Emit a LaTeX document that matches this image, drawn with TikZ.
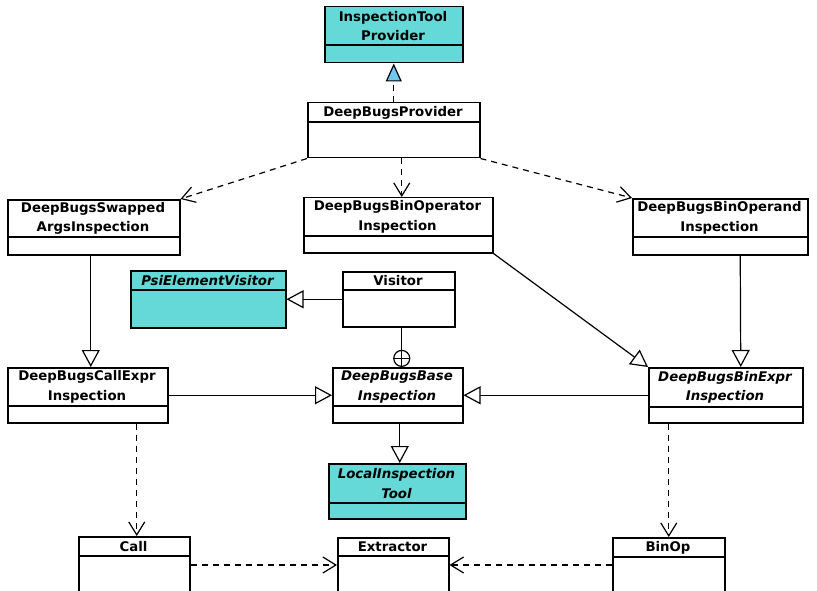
\documentclass[tikz,border=0pt]{standalone}
\usepackage{fontspec}
\setmainfont{DejaVu Sans}
\usetikzlibrary{arrows.meta}
\definecolor{clsfill}{RGB}{100,217,215}
\definecolor{trifill}{RGB}{112,200,240}
\tikzset{
  box/.style={draw, line width=1.5pt, inner sep=0pt},
  boxline/.style={line width=1.3pt},
  title/.style={font=\bfseries\fontsize{13.3}{19.5}\selectfont, align=center, inner sep=0pt},
  ititle/.style={font=\bfseries\itshape\fontsize{13.3}{19.5}\selectfont, align=center, inner sep=0pt},
  dep/.style={line width=1.2pt, dash pattern=on 6pt off 5pt, -{Straight Barb[length=13pt,width=16pt,line width=1.2pt]}},
  gen/.style={line width=1.2pt, -{Triangle[open,fill=white,length=17pt,width=18pt,line width=1.2pt]}},
  real/.style={line width=1.2pt, dash pattern=on 6pt off 5pt, -{Triangle[fill=trifill,length=18pt,width=16pt,line width=1.2pt]}},
}
% name, x1, y1, x2, y2, ydiv, fill, style, text
\newcommand\umlbox[9]{%
  \node[box, fill=#7, minimum width={(#4-#2)*1pt}, minimum height={(#5-#3)*1pt}, anchor=north west] (#1) at (#2,#3) {};
  \draw[boxline] (#2,#6) -- (#4,#6);
  \node[#8] at ({(#2+#4)/2},{(#3+#6)/2+0.5}) {#9};
}
\begin{document}
\begin{tikzpicture}[x=1pt,y=-1pt]
\clip (0,0) rectangle (817,591);
\fill[white] (0,0) rectangle (817,591);
\umlbox{itp}{324}{6}{462}{62}{45}{clsfill}{title}{InspectionTool\\Provider}
\umlbox{prov}{307}{102}{479}{157}{122}{white}{title}{DeepBugsProvider}
\umlbox{swap}{7}{199}{179}{254}{237}{white}{title}{DeepBugsSwapped\\ArgsInspection}
\umlbox{optr}{303}{197}{492}{252}{236}{white}{title}{DeepBugsBinOperator\\Inspection}
\umlbox{opnd}{632}{198}{807}{254}{237}{white}{title}{DeepBugsBinOperand\\Inspection}
\umlbox{psi}{130}{270}{285}{327}{290}{clsfill}{ititle}{PsiElementVisitor}
\umlbox{vis}{342}{271}{454}{326}{290}{white}{title}{Visitor}
\umlbox{callx}{7}{367}{167}{422}{406}{white}{title}{DeepBugsCallExpr\\Inspection}
\umlbox{base}{332}{367}{462}{422}{406}{white}{ititle}{DeepBugsBase\\Inspection}
\umlbox{binx}{648}{367}{802}{422}{407}{white}{ititle}{DeepBugsBinExpr\\Inspection}
\umlbox{lit}{328}{463}{465}{518}{503}{clsfill}{ititle}{LocalInspection\\Tool}
\umlbox{call}{78}{536}{189}{640}{556}{white}{title}{Call}
\umlbox{ext}{337}{537}{448}{640}{556}{white}{title}{Extractor}
\umlbox{binop}{612}{537}{724}{640}{557}{white}{title}{BinOp}
% connectors
\draw[real] (prov.north) -- (itp.south);
\draw[dep] (prov.south west) -- (swap.north east);
\draw[dep] ([xshift=8pt]prov.south) -- ([xshift=3.5pt]optr.north);
\draw[dep] (prov.south east) -- (opnd.north west);
\draw[gen] ([xshift=-3pt]swap.south) -- ([xshift=3pt]callx.north);
\draw[gen] (optr.south east) -- (binx.north west);
\draw[gen] ([xshift=20pt]opnd.south) -- ([xshift=15pt]binx.north);
\draw[gen] (vis.west) -- (psi.east);
\node[draw, circle, line width=1.2pt, minimum size=16pt, inner sep=0pt, anchor=south, fill=white] (nest) at ([xshift=4pt]base.north) {};
\draw[line width=1.2pt] (nest.north) -- (nest.south) (nest.west) -- (nest.east);
\draw[line width=1.2pt] (vis.south -| nest.north) -- (nest.north);
\draw[gen] (callx.east) -- (base.west);
\draw[gen] (binx.west) -- (base.east);
\draw[gen] ([xshift=2pt]base.south) -- ([xshift=2.5pt]lit.north);
\draw[dep] ([xshift=2.5pt]call.north |- callx.south) -- ([xshift=2.5pt]call.north);
\draw[dep] (binop.north |- binx.south) -- (binop.north);
\draw[dep] ([yshift=-29pt]call.north east) -- ([yshift=-28pt]ext.north west);
\draw[dep] ([yshift=-28pt]binop.north west) -- ([yshift=-28pt]ext.north east);
\end{tikzpicture}
\end{document}
